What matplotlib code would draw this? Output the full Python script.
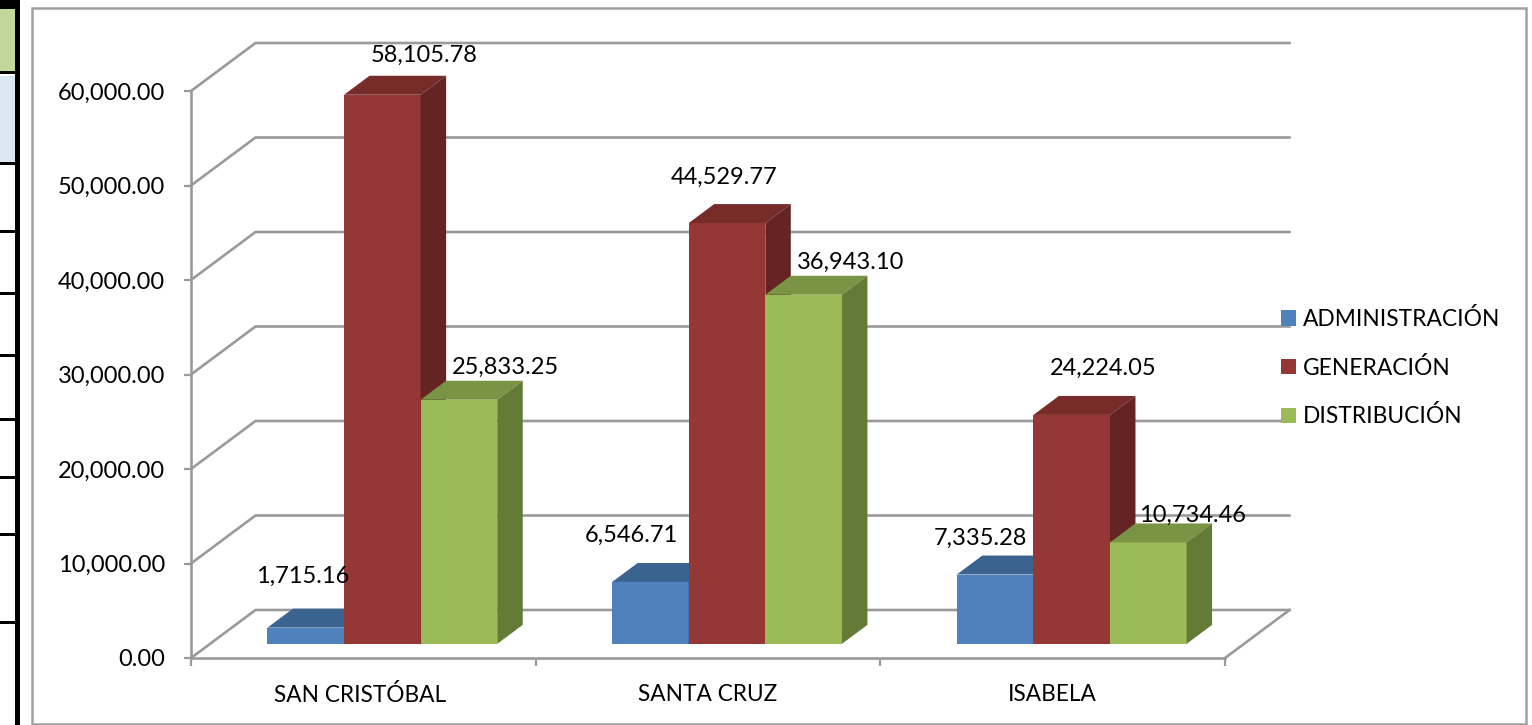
import matplotlib
matplotlib.use('Agg')
import matplotlib.pyplot as plt
from matplotlib.patches import Polygon, Rectangle

# Values
islands = ['SAN CRISTÓBAL', 'SANTA CRUZ', 'ISABELA']
series_names = ['ADMINISTRACIÓN', 'GENERACIÓN', 'DISTRIBUCIÓN']
administracion = [1715.16, 6546.71, 7335.28]
generacion = [58105.78, 44529.77, 24224.05]
distribucion = [25833.25, 36943.10, 10734.46]
y_ticks = [0, 10000, 20000, 30000, 40000, 50000, 60000]

front_colors = ['#4F81BD', '#953735', '#9BBB59']
top_colors = ['#3B6390', '#772C2A', '#7A9445']
side_colors = ['#2F4F78', '#632423', '#647A37']
grid_color = '#9A9A9A'

# Label offsets from the front top centre of each bar, in pixels
label_offsets = [
    [(-3.5, 51), (-19, 47), (-15, 36)],
    [(42, 39), (-3, 46), (31, 47)],
    [(46, 32), (47, 32), (44, 27.5)],
]

W, H = 1532, 725
plt.rcParams['font.family'] = ['Lato', 'DejaVu Sans']
plt.rcParams['font.size'] = 17

fig = plt.figure(figsize=(W / 100, H / 100), dpi=100)
ax = fig.add_axes([191 / W, (H - 658) / H, (1225 - 191) / W, (658 - 91) / H])
ax.set_xlim(0, 3)
ax.set_ylim(0, 60000)
ax.patch.set_visible(False)

# One pixel in data units, the 3D depth is given in pixels
px_x = 3 / (1225 - 191)
px_y = 60000 / (658 - 91)
depth_x = 64.5 * px_x
depth_y = 48 * px_y


# Bits of the neighbouring table and the chart frame, in figure pixels
def fig_rect(x0, y0, x1, y1, **kw):
    fig.add_artist(Rectangle((x0 / W, (H - y1) / H), (x1 - x0) / W, (y1 - y0) / H,
                             transform=fig.transFigure, **kw))


fig_rect(0, 9, 14.5, 71, color='#C3D69B', lw=0)
fig_rect(0, 76, 14.5, 162, color='#DCE6F1', lw=0)
fig_rect(14.5, 0, 20, H, color='black', lw=0)
fig_rect(0, 0, 14.5, 8.5, color='black', lw=0)
for y in [71, 162, 230, 292, 354, 418, 476, 533, 621]:
    fig_rect(0, y, 14.5, y + 2.5, color='black', lw=0)
fig_rect(32, 8, 1526, 724, fill=False, edgecolor='#A0A0A0', lw=1.8)

# Floor and back wall
for tick in y_ticks:
    ax.plot([0, depth_x, 3 + depth_x], [tick, tick + depth_y, tick + depth_y],
            color=grid_color, lw=1.9, clip_on=False, zorder=1, solid_joinstyle='miter')
ax.plot([3, 3 + depth_x], [0, depth_y], color=grid_color, lw=1.9, clip_on=False, zorder=1)

# Bars, drawn left to right so that each one hides the side of the one before
bar_w = 2 / 9
gap = 1 / 6
near = 0.295
far = 0.69
all_series = [administracion, generacion, distribucion]
for c in range(len(islands)):
    for s, values in enumerate(all_series):
        v = values[c]
        z = 3 + c * 3 + s
        x0 = c + gap + s * bar_w + near * depth_x
        x1 = x0 + bar_w
        base = near * depth_y
        dx = (far - near) * depth_x
        dy = (far - near) * depth_y
        ax.bar(x0, v, bar_w, bottom=base, align='edge', color=front_colors[s],
               clip_on=False, zorder=z)
        ax.add_patch(Polygon([(x0, base + v), (x0 + dx, base + v + dy),
                              (x1 + dx, base + v + dy), (x1, base + v)],
                             color=top_colors[s], lw=0, clip_on=False, zorder=z))
        ax.add_patch(Polygon([(x1, base), (x1 + dx, base + dy),
                              (x1 + dx, base + v + dy), (x1, base + v)],
                             color=side_colors[s], lw=0, clip_on=False, zorder=z))
        ax.annotate(f'{v:,.2f}', xy=(x0 + bar_w / 2, base + v),
                    xytext=label_offsets[s][c], textcoords='offset pixels',
                    ha='center', va='center', color='black', zorder=30,
                    annotation_clip=False)

# Axes
for side in ['top', 'right']:
    ax.spines[side].set_visible(False)
for side in ['left', 'bottom']:
    ax.spines[side].set_color(grid_color)
    ax.spines[side].set_linewidth(1.9)
ax.set_yticks(y_ticks)
ax.set_yticklabels([f'{t:,.2f}' for t in y_ticks], va='center_baseline')
ax.tick_params(axis='y', length=5, width=1.6, color=grid_color, pad=13.5)
ax.set_xticks(range(4))
ax.set_xticklabels([])
ax.tick_params(axis='x', which='major', length=6, width=1.6, color=grid_color)
ax.set_xticks([0.49, 1.5, 2.5], minor=True)
ax.set_xticklabels(islands, minor=True, fontsize=16.3)
ax.tick_params(axis='x', which='minor', length=0, pad=19)

handles = [Rectangle((0, 0), 1, 1, color=col, lw=0) for col in front_colors]
fig.legend(handles, series_names, loc='upper left', frameon=False, fontsize=16.4,
           bbox_to_anchor=(1281 / W, (H - 308) / H), borderaxespad=0, borderpad=0,
           handlelength=0.66, handleheight=0.66, handletextpad=0.3, labelspacing=1.17)

fig.savefig('out.png', dpi=100)
